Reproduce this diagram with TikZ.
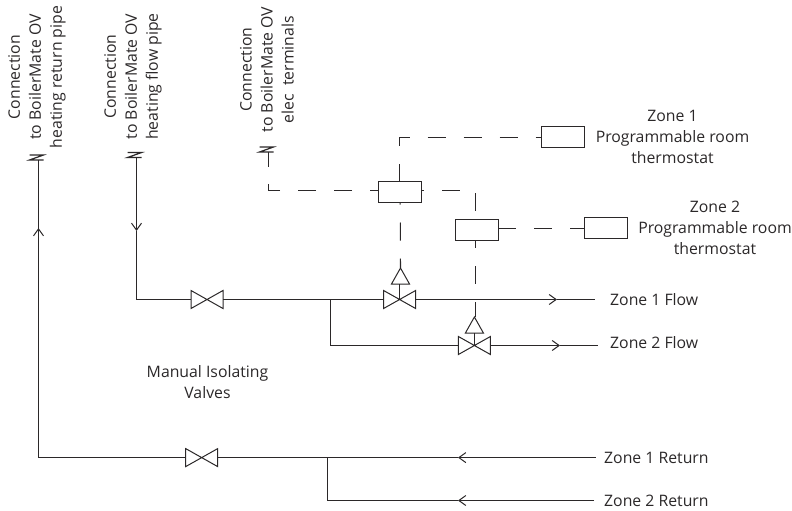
\documentclass[tikz,border=0pt]{standalone}
\usepackage{fontspec}
\setmainfont{Open Sans}
\usetikzlibrary{arrows.meta}
\definecolor{ink}{HTML}{2B2829}
\tikzset{
  every node/.style={text=ink},
  pipe/.style={draw=ink,line width=1.05pt},
  wire/.style={pipe,dash pattern=on 18pt off 18pt},
  flowtip/.style={draw=ink,line width=1.05pt,-{Straight Barb[length=7pt,width=10pt,line width=1pt]}},
  label/.style={font=\fontsize{15.8}{21}\selectfont,align=center,inner sep=0pt},
  side/.style={label,anchor=west},
  rot/.style={label,rotate=90},
  ctlbox/.style={draw=ink,line width=1.05pt,minimum width=43pt,minimum height=21pt,inner sep=0pt,outer sep=0pt},
  valve/.style={minimum width=32pt,minimum height=18pt,inner sep=0pt,outer sep=0pt},
  actuator/.style={minimum width=18pt,minimum height=16pt,inner sep=0pt,outer sep=0pt},
  breakmark/.style={minimum width=14pt,minimum height=5pt,inner sep=0pt,outer sep=0pt},
  symbol/.style={draw=ink,line width=1pt},
}
\begin{document}
\begin{tikzpicture}[x=1pt,y=-1pt]
\useasboundingbox (0,0) rectangle (792,511);
% rotated labels
\node[rot] (t1) at (37,77) {Connection\\to BoilerMate OV\\heating return pipe};
\node[rot] (t2) at (133,76.5) {Connection\\to BoilerMate OV\\heating flow pipe};
\node[rot] (t3) at (267,69.5) {Connection\\to BoilerMate OV\\elec\ \ terminals};
% thermostat labels
\node[label] (t4) at (672.5,136.5) {Zone 1\\Programmable room\\thermostat};
\node[label] (t5) at (715,228) {Zone 2\\Programmable room\\thermostat};
\node[label] (t6) at (207.5,382) {Manual Isolating\\Valves};
\node[side] (zf1) at (610,300) {Zone 1 Flow};
\node[side] (zf2) at (610,343) {Zone 2 Flow};
\node[side] (zr1) at (604,458) {Zone 1 Return};
\node[side] (zr2) at (604,501) {Zone 2 Return};
% break marks
\node[breakmark] (br) at (36.5,157.5) {};
\node[breakmark] (bf) at (134.6,155) {};
\node[breakmark] (be) at (266.5,149.5) {};
\foreach \n in {br,bf,be}
  \draw[symbol,line width=1.2pt] (\n.north west)--(\n.north east)--(\n.south west)--(\n.south east);
% boxes
\node[ctlbox] (box1) at (400.2,192) {};
\node[ctlbox] (box2) at (476.8,230) {};
\node[ctlbox] (box3) at (563.3,137) {};
\node[ctlbox] (box4) at (606,228) {};
% valves
\node[valve] (v1) at (207,299.5) {};
\node[valve] (v2) at (399.6,299.5) {};
\node[valve] (v3) at (474.4,345.5) {};
\node[valve] (v4) at (201.7,457.6) {};
\foreach \n in {v1,v2,v3,v4}
  \draw[symbol] (\n.north west)--(\n.south east)--(\n.north east)--(\n.south west)--cycle;
\node[actuator] (a1) at (400.5,276) {};
\node[actuator] (a2) at (474.4,325) {};
\foreach \n in {a1,a2}
  \draw[symbol] (\n.south west)--(\n.south east)--(\n.north)--cycle;
% coordinates
\coordinate (ct1) at (136.5,299.5);
\coordinate (cr1) at (38.5,457.6);
\coordinate (ta1) at (38.5,228);
\coordinate (ta2) at (136.5,231);
\coordinate (ta3) at (557,299.5);
\coordinate (ta4) at (560,345.5);
\coordinate (ta5) at (458,457.6);
\coordinate (ta6) at (458,500.5);
\coordinate (j1) at (330.4,299.5);
\coordinate (j2) at (330.4,345.5);
\coordinate (j3) at (327.6,457.6);
\coordinate (j4) at (327.6,500.5);
\coordinate (e1) at (594.7,299.5);
\coordinate (e2) at (597.7,345.5);
\coordinate (e3) at (595.5,457.6);
\coordinate (e4) at (594,500.5);
% return pipe
\draw[flowtip] (cr1) -- (ta1);
\draw[pipe] (ta1) -- (br.south -| ta1);
\draw[pipe] (v4.west) -- (cr1) -- (ta1);
\draw[pipe] (v4.east) -- (j3);
\draw[flowtip] (e3) -- (ta5);
\draw[pipe] (ta5) -- (j3);
\draw[flowtip] (e4) -- (ta6);
\draw[pipe] (ta6) -- (j4) -- (j3);
% flow pipe
\draw[flowtip] (bf.south -| ta2) -- (ta2);
\draw[pipe] (ta2) -- (ct1) -- (v1.west);
\draw[pipe] (v1.east) -- (v2.west);
\draw[flowtip] (v2.east) -- (ta3);
\draw[pipe] (ta3) -- (e1);
\draw[pipe] (j1) -- (j2) -- (v3.west);
\draw[flowtip] (v3.east) -- (ta4);
\draw[pipe] (ta4) -- (e2);
% actuators
\draw[pipe] (a1.south -| v2.center) -- (v2.center);
\draw[pipe] (a2.south) -- (a2.south |- v3.center);
% control wiring
\coordinate (w1) at (268.5,166.7);
\coordinate (w2) at (268.5,190.5);
\coordinate (w3) at (475.5,190.5);
\coordinate (w4) at (399.5,137.5);
\draw[pipe] (be.south -| w1) -- (w1);
\draw[wire,dash phase=9.3pt] ([yshift=1.5pt]box1.west) -- (w2) -- (w1);
\draw[wire,dash phase=15.7pt] ([yshift=1.5pt]box1.east) -- (w3) -- (w3 |- box2.north);
\draw[wire,dash phase=0pt] (box1.north -| w4) -- (w4) -- ([yshift=-0.5pt]box3.west);
\draw[wire,dash phase=16pt] (box1.south) -- (a1.north);
\draw[wire,dash phase=10.3pt] (w3 |- box2.south) -- (w3 |- a2.north);
\draw[wire] ([yshift=1.5pt]box2.east) -- ([yshift=1.5pt]box2.east -| box4.west);
\end{tikzpicture}
\end{document}
